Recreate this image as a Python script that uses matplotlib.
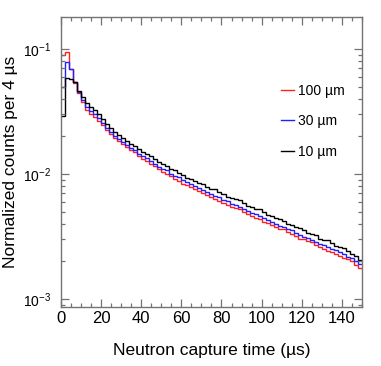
import matplotlib
matplotlib.use("Agg")
import matplotlib.pyplot as plt
from matplotlib.ticker import MultipleLocator, LogLocator
import numpy as np

plt.rcParams['font.family'] = ['Liberation Sans', 'DejaVu Sans']

# histogram binning (2 us bins from 0 to 150 us)
bin_edges = np.arange(0, 151, 2)

# normalized counts (units of 1e-3)
counts_100um = [
    89.5, 94.6, 69.2, 53.5, 44.5, 37.5, 32.5, 30.5, 28.8, 26.8,
    24.6, 22.5, 20.9, 19.4, 18.3, 17.4, 16.4, 15.5, 14.9, 14.0,
    13.2, 12.8, 12.1, 11.6, 10.9, 10.4, 10.1, 9.57, 9.17, 8.82,
    8.35, 8.18, 7.89, 7.56, 7.29, 7.03, 6.77, 6.60, 6.37, 6.14,
    5.92, 5.70, 5.50, 5.36, 5.22, 4.98, 4.79, 4.62, 4.46, 4.38,
    4.15, 4.07, 3.93, 3.78, 3.65, 3.62, 3.45, 3.32, 3.20, 3.03,
    3.03, 2.92, 2.86, 2.71, 2.61, 2.52, 2.43, 2.39, 2.31, 2.22,
    2.12, 2.08, 2.00, 1.86, 1.78,
]
counts_30um = [
    49.7, 78.7, 69.2, 54.4, 45.3, 39.1, 34.5, 32.0, 30.2, 28.0,
    25.7, 23.3, 21.7, 20.2, 19.1, 18.1, 17.1, 16.2, 15.5, 14.6,
    13.9, 13.4, 12.7, 12.1, 11.5, 11.0, 10.7, 10.1, 9.70, 9.45,
    8.99, 8.61, 8.30, 8.00, 7.72, 7.43, 7.25, 6.91, 6.74, 6.50,
    6.26, 6.04, 5.75, 5.68, 5.47, 5.27, 5.08, 4.90, 4.80, 4.64,
    4.47, 4.31, 4.10, 4.01, 3.86, 3.79, 3.65, 3.56, 3.39, 3.27,
    3.15, 3.09, 2.98, 2.87, 2.76, 2.71, 2.62, 2.53, 2.47, 2.37,
    2.28, 2.18, 2.14, 2.03, 1.90,
]
counts_10um = [
    29.1, 58.6, 57.5, 54.4, 46.2, 41.3, 37.0, 34.3, 32.5, 30.2,
    27.5, 25.1, 23.3, 21.7, 20.5, 19.5, 18.4, 17.4, 16.8, 15.8,
    15.0, 14.5, 13.9, 13.2, 12.5, 12.0, 11.6, 11.0, 10.8, 10.2,
    9.82, 9.30, 9.12, 8.79, 8.48, 8.30, 7.87, 7.59, 7.55, 7.18,
    6.92, 6.60, 6.43, 6.31, 6.15, 5.86, 5.58, 5.44, 5.25, 5.22,
    4.97, 4.72, 4.62, 4.45, 4.35, 4.21, 4.00, 3.91, 3.77, 3.68,
    3.56, 3.38, 3.31, 3.25, 3.02, 2.96, 2.96, 2.81, 2.66, 2.60,
    2.55, 2.42, 2.28, 2.21, 2.07,
]
labels = ["100 µm", "30 µm", "10 µm"]
colors = ["#ff2020", "#2020ff", "black"]

fig = plt.figure(figsize=(3.81, 3.66), dpi=100)
ax = fig.add_axes([0.160, 0.161, 0.790, 0.792])

for vals, lab, col in zip([counts_100um, counts_30um, counts_10um], labels, colors):
    ax.stairs(np.array(vals) * 1e-3, bin_edges, baseline=None, color=col, lw=1.0, label=lab)

ax.set_yscale('log')
ax.set_xlim(0, 150)
ax.set_ylim(8.63e-4, 0.18)

ax.xaxis.set_major_locator(MultipleLocator(20))
ax.xaxis.set_minor_locator(MultipleLocator(5))
ax.yaxis.set_minor_locator(LogLocator(subs=np.arange(2, 10)))

axis_col = '0.45'
for s in ax.spines.values():
    s.set_color(axis_col)
    s.set_linewidth(1.0)
ax.tick_params(which='both', direction='in', top=True, right=True, color=axis_col, width=0.9)
ax.tick_params(which='major', length=6)
ax.tick_params(which='minor', length=3)
ax.tick_params(axis='x', which='major', pad=3, labelsize=12)
ax.tick_params(axis='y', which='major', pad=7, labelsize=10)

ax.set_xlabel("Neutron capture time (µs)", fontsize=12.5, labelpad=12)
ax.set_ylabel("Normalized counts per 4 µs", fontsize=12.5, labelpad=4)

ax.legend(loc='upper left', bbox_to_anchor=(0.713, 0.79), frameon=False, fontsize=10,
          handlelength=0.9, handletextpad=0.3, labelspacing=1.2, borderaxespad=0)

fig.savefig("out.png", dpi=100)
